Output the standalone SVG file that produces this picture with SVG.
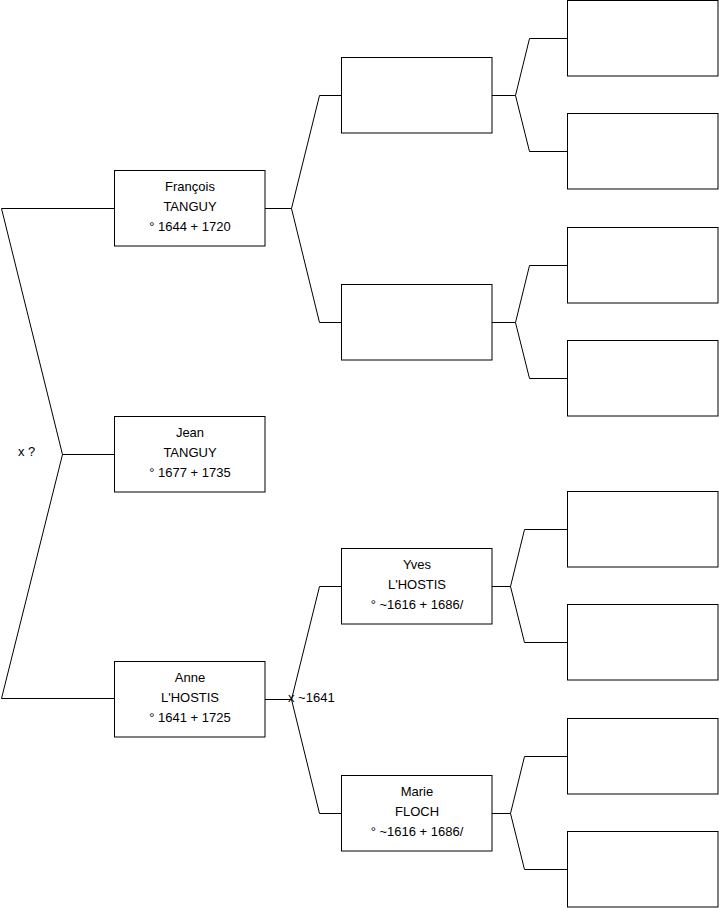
<svg xmlns="http://www.w3.org/2000/svg" width="719" height="908" viewBox="0 0 719 908">
<style>
.box{fill:#fff;stroke:#000;stroke-width:1}
.ln{fill:none;stroke:#000;stroke-width:1}
text{font-family:"Liberation Sans",Arial,sans-serif;font-size:13px;fill:#000}
.c{text-anchor:middle}
</style>
<rect width="719" height="908" fill="#fff"/>
<g id="connectors">
<path class="ln" d="M114,208.5 H1.5 L62.5,454.5 H114 M62.5,454.5 L1.5,698.5 H114"/>
<path class="ln" d="M265,208.5 H291.5 L319.5,95.5 H341 M291.5,208.5 L319.5,322.5 H341"/>
<path class="ln" d="M265,699.5 H291.5 L319.5,586.5 H341 M291.5,699.5 L319.5,813.5 H341"/>
<path class="ln" d="M492,95.5 H515.5 L529.5,38.5 H567 M515.5,95.5 L529.5,151.5 H567"/>
<path class="ln" d="M492,322.5 H515.5 L529.5,265.5 H567 M515.5,322.5 L529.5,378.5 H567"/>
<path class="ln" d="M492,586.5 H510.5 L524.5,529.5 H567 M510.5,586.5 L524.5,642.5 H567"/>
<path class="ln" d="M492,813.5 H510.5 L524.5,756.5 H567 M510.5,813.5 L524.5,869.5 H567"/>
<text x="18" y="456">x ?</text>
<text x="288" y="702">x ~1641</text>
</g>
<g id="francois"><rect class="box" x="114.5" y="170.5" width="150.5" height="75.5"/>
<text class="c" x="190" y="191">François</text><text class="c" x="190" y="211">TANGUY</text><text class="c" x="190" y="231">° 1644 + 1720</text></g>
<g id="jean"><rect class="box" x="114.5" y="416.5" width="150.5" height="75.5"/>
<text class="c" x="190" y="437">Jean</text><text class="c" x="190" y="457">TANGUY</text><text class="c" x="190" y="477">° 1677 + 1735</text></g>
<g id="anne"><rect class="box" x="114.5" y="661.5" width="150.5" height="75.5"/>
<text class="c" x="190" y="682">Anne</text><text class="c" x="190" y="702">L'HOSTIS</text><text class="c" x="190" y="722">° 1641 + 1725</text></g>
<g id="pere-francois"><rect class="box" x="341.5" y="57.5" width="150.5" height="75.5"/></g>
<g id="mere-francois"><rect class="box" x="341.5" y="284.5" width="150.5" height="75.5"/></g>
<g id="yves"><rect class="box" x="341.5" y="548.5" width="150.5" height="75.5"/>
<text class="c" x="417" y="569">Yves</text><text class="c" x="417" y="589">L'HOSTIS</text><text class="c" x="417" y="609">° ~1616 + 1686/</text></g>
<g id="marie"><rect class="box" x="341.5" y="775.5" width="150.5" height="75.5"/>
<text class="c" x="417" y="796">Marie</text><text class="c" x="417" y="816">FLOCH</text><text class="c" x="417" y="836">° ~1616 + 1686/</text></g>
<g id="r1"><rect class="box" x="567.5" y="0.5" width="150.5" height="75.5"/></g>
<g id="r2"><rect class="box" x="567.5" y="113.5" width="150.5" height="75.5"/></g>
<g id="r3"><rect class="box" x="567.5" y="227.5" width="150.5" height="75.5"/></g>
<g id="r4"><rect class="box" x="567.5" y="340.5" width="150.5" height="75.5"/></g>
<g id="r5"><rect class="box" x="567.5" y="491.5" width="150.5" height="75.5"/></g>
<g id="r6"><rect class="box" x="567.5" y="604.5" width="150.5" height="75.5"/></g>
<g id="r7"><rect class="box" x="567.5" y="718.5" width="150.5" height="75.5"/></g>
<g id="r8"><rect class="box" x="567.5" y="831.5" width="150.5" height="75.5"/></g>
</svg>
